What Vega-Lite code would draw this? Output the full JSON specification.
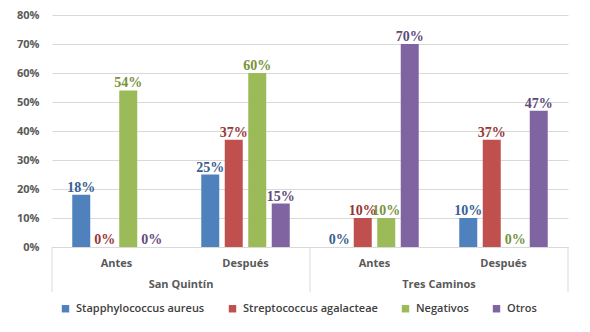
{
  "$schema": "https://vega.github.io/schema/vega-lite/v6.json",
  "width": 516,
  "height": 232,
  "autosize": {"type": "none"},
  "padding": {"left": 52, "top": 15, "right": 22, "bottom": 85},
  "background": "white",
  "config": {
    "view": {"stroke": null},
    "font": "Open Sans"
  },
  "data": {
    "values": [
      {"grupo": "San Quintín|Antes", "serie": "Stapphylococcus aureus", "valor": 0.18},
      {"grupo": "San Quintín|Antes", "serie": "Streptococcus agalacteae", "valor": 0.0},
      {"grupo": "San Quintín|Antes", "serie": "Negativos", "valor": 0.54},
      {"grupo": "San Quintín|Antes", "serie": "Otros", "valor": 0.0},
      {"grupo": "San Quintín|Después", "serie": "Stapphylococcus aureus", "valor": 0.25},
      {"grupo": "San Quintín|Después", "serie": "Streptococcus agalacteae", "valor": 0.37},
      {"grupo": "San Quintín|Después", "serie": "Negativos", "valor": 0.60},
      {"grupo": "San Quintín|Después", "serie": "Otros", "valor": 0.15},
      {"grupo": "Tres Caminos|Antes", "serie": "Stapphylococcus aureus", "valor": 0.0},
      {"grupo": "Tres Caminos|Antes", "serie": "Streptococcus agalacteae", "valor": 0.10},
      {"grupo": "Tres Caminos|Antes", "serie": "Negativos", "valor": 0.10},
      {"grupo": "Tres Caminos|Antes", "serie": "Otros", "valor": 0.70},
      {"grupo": "Tres Caminos|Después", "serie": "Stapphylococcus aureus", "valor": 0.10},
      {"grupo": "Tres Caminos|Después", "serie": "Streptococcus agalacteae", "valor": 0.37},
      {"grupo": "Tres Caminos|Después", "serie": "Negativos", "valor": 0.0},
      {"grupo": "Tres Caminos|Después", "serie": "Otros", "valor": 0.47}
    ]
  },
  "layer": [
    {
      "mark": {"type": "bar", "width": 18},
      "encoding": {
        "x": {
          "field": "grupo", "type": "nominal",
          "scale": {"domain": ["San Quintín|Antes", "San Quintín|Después", "Tres Caminos|Antes", "Tres Caminos|Después"], "paddingInner": 0, "paddingOuter": 0},
          "axis": {"title": null, "labelExpr": "split(datum.value, '|')[1]", "labelAngle": 0, "ticks": false, "domainColor": "#d9d9d9", "labelPadding": 10, "labelFont": "Open Sans", "labelFontWeight": "bold", "labelFontSize": 11, "labelColor": "#595959"}
        },
        "xOffset": {
          "field": "serie", "type": "nominal",
          "scale": {"domain": ["Stapphylococcus aureus", "Streptococcus agalacteae", "Negativos", "Otros"], "paddingInner": 0.234, "paddingOuter": 0.862}
        },
        "y": {
          "field": "valor", "type": "quantitative",
          "scale": {"domain": [0, 0.8], "nice": false},
          "axis": {"title": null, "format": ".0%", "values": [0, 0.1, 0.2, 0.3, 0.4, 0.5, 0.6, 0.7, 0.8], "labelOverlap": false, "domain": false, "ticks": false, "gridColor": "#d9d9d9", "labelPadding": 13, "labelFont": "Open Sans", "labelFontWeight": "bold", "labelFontSize": 11, "labelColor": "#595959"}
        },
        "color": {
          "field": "serie", "type": "nominal",
          "scale": {"domain": ["Stapphylococcus aureus", "Streptococcus agalacteae", "Negativos", "Otros"], "range": ["#4f81bd", "#c0504d", "#9bbb59", "#8064a2"]},
          "legend": {"title": null, "orient": "none", "legendX": 8, "legendY": 288, "direction": "horizontal", "symbolType": "square", "symbolSize": 55, "symbolStrokeWidth": 0, "labelOffset": 5, "labelFont": "Open Sans", "labelFontSize": 11, "labelFontWeight": 600, "labelColor": "#404040", "columnPadding": 22}
        }
      }
    },
    {
      "mark": {"type": "text", "font": "Liberation Serif", "fontWeight": "bold", "fontSize": 14, "dy": -7},
      "encoding": {
        "x": {"field": "grupo", "type": "nominal"},
        "xOffset": {"field": "serie", "type": "nominal"},
        "y": {
          "field": "valor", "type": "quantitative",
          "axis": {"title": null, "format": ".0%", "values": [0, 0.1, 0.2, 0.3, 0.4, 0.5, 0.6, 0.7, 0.8], "labelOverlap": false, "domain": false, "ticks": false, "gridColor": "#d9d9d9", "labelPadding": 13, "labelFont": "Open Sans", "labelFontWeight": "bold", "labelFontSize": 11, "labelColor": "#595959"}
        },
        "text": {"field": "valor", "type": "quantitative", "format": ".0%"},
        "color": {
          "field": "serie", "type": "nominal",
          "scale": {"domain": ["Stapphylococcus aureus", "Streptococcus agalacteae", "Negativos", "Otros"], "range": ["#376092", "#953735", "#77933c", "#604a7b"]},
          "legend": null
        }
      }
    },
    {
      "data": {"values": [{"grupo": "San Quintín|Antes"}, {"grupo": "Tres Caminos|Antes"}]},
      "mark": {"type": "rule", "color": "#d9d9d9", "strokeWidth": 1},
      "encoding": {
        "x": {"field": "grupo", "type": "nominal", "bandPosition": 0},
        "y": {
          "datum": 0, "type": "quantitative",
          "axis": {"title": null, "format": ".0%", "values": [0, 0.1, 0.2, 0.3, 0.4, 0.5, 0.6, 0.7, 0.8], "labelOverlap": false, "domain": false, "ticks": false, "gridColor": "#d9d9d9", "labelPadding": 13, "labelFont": "Open Sans", "labelFontWeight": "bold", "labelFontSize": 11, "labelColor": "#595959"}
        },
        "y2": {"datum": -0.155}
      }
    },
    {
      "data": {"values": [{"grupo": "Tres Caminos|Después"}]},
      "mark": {"type": "rule", "color": "#d9d9d9", "strokeWidth": 1},
      "encoding": {
        "x": {"field": "grupo", "type": "nominal", "bandPosition": 1},
        "y": {
          "datum": 0, "type": "quantitative",
          "axis": {"title": null, "format": ".0%", "values": [0, 0.1, 0.2, 0.3, 0.4, 0.5, 0.6, 0.7, 0.8], "labelOverlap": false, "domain": false, "ticks": false, "gridColor": "#d9d9d9", "labelPadding": 13, "labelFont": "Open Sans", "labelFontWeight": "bold", "labelFontSize": 11, "labelColor": "#595959"}
        },
        "y2": {"datum": -0.155}
      }
    },
    {
      "data": {"values": [{"grupo": "San Quintín|Antes", "sitio": "San Quintín"}, {"grupo": "Tres Caminos|Antes", "sitio": "Tres Caminos"}]},
      "mark": {"type": "text", "font": "Open Sans", "fontWeight": "bold", "fontSize": 11, "color": "#595959", "baseline": "middle"},
      "encoding": {
        "x": {"field": "grupo", "type": "nominal", "bandPosition": 1},
        "y": {
          "datum": -0.131, "type": "quantitative",
          "axis": {"title": null, "format": ".0%", "values": [0, 0.1, 0.2, 0.3, 0.4, 0.5, 0.6, 0.7, 0.8], "labelOverlap": false, "domain": false, "ticks": false, "gridColor": "#d9d9d9", "labelPadding": 13, "labelFont": "Open Sans", "labelFontWeight": "bold", "labelFontSize": 11, "labelColor": "#595959"}
        },
        "text": {"field": "sitio"}
      }
    }
  ],
  "resolve": {"scale": {"color": "independent"}}
}
